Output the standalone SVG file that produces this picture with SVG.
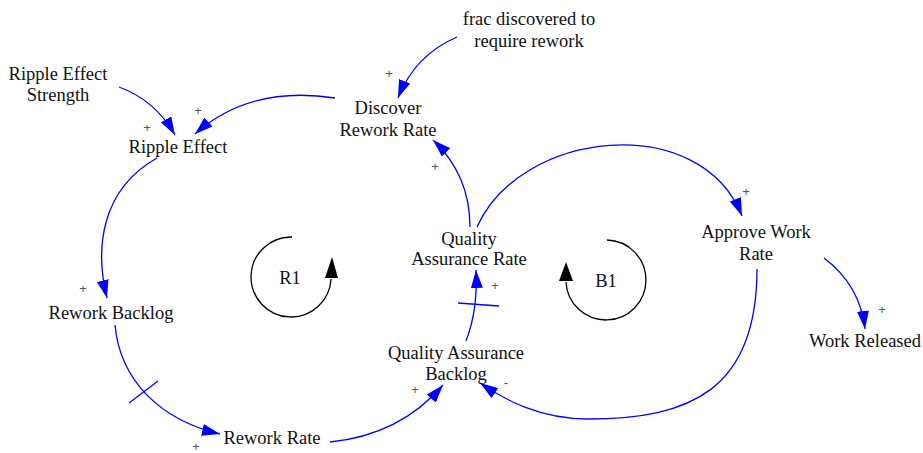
<svg xmlns="http://www.w3.org/2000/svg" width="923" height="453" viewBox="0 0 923 453">
<style>
text{font-family:"Liberation Serif","Times New Roman","DejaVu Serif",serif}
.t{font-size:18.5px;fill:#111;text-anchor:middle}
.s{font-family:"Liberation Sans","DejaVu Sans",sans-serif;font-size:13px;fill:#555;text-anchor:middle}
.e{fill:none;stroke:#0000ff;stroke-width:1.3;marker-end:url(#ab)}
.k{fill:none;stroke:#0000ff;stroke-width:1.3}
.l{fill:none;stroke:#000;stroke-width:1.3}
</style>
<defs>
<marker id="ab" markerUnits="userSpaceOnUse" viewBox="0 0 18 12" markerWidth="18" markerHeight="12" refX="18" refY="6" orient="auto"><path d="M0,0 L18,6 L0,12 z" fill="#0000ff"/></marker>
</defs>
<rect width="923" height="453" fill="#fff"/>
<g id="connectors">
<path class="e" d="M119,87 Q155,100 175,135"/>
<path class="e" d="M335,98 Q250,85 195,134"/>
<path class="e" d="M457,37 Q415,55 398,98"/>
<path class="e" d="M470,227 Q470,175 433,140"/>
<path class="e" d="M477,227 C520,130 700,110 742,216"/>
<path class="e" d="M157,158 C100,190 95,250 107,298"/>
<path class="e" d="M115,325 C120,380 160,420 220,434"/>
<path class="k" d="M129,403 L158,381"/>
<path class="e" d="M330,442 Q400,435 443,385"/>
<path class="e" d="M466,341 Q478,310 476,270"/>
<path class="k" d="M458,303 L499,306"/>
<path class="e" d="M757,269 C757,390 690,419 588,419 C540,419 505,400 480,383"/>
<path class="e" d="M824,258 Q860,285 865,329"/>
</g>
<g id="loop-r1">
<path class="l" d="M292,237 A40,40 0 1 0 331,279"/>
<polygon points="325,278 338,278 332,257" fill="#000"/>
<text class="t" x="290" y="284">R1</text>
</g>
<g id="loop-b1">
<path class="l" d="M607,240 A40,40 0 1 1 566,282"/>
<polygon points="559,281 573,281 566,262" fill="#000"/>
<text class="t" x="606" y="287">B1</text>
</g>
<g id="signs">
<text class="s" x="147" y="132">+</text>
<text class="s" x="198" y="115">+</text>
<text class="s" x="389" y="78">+</text>
<text class="s" x="435" y="171">+</text>
<text class="s" x="746" y="196">+</text>
<text class="s" x="83" y="293">+</text>
<text class="s" x="196" y="451">+</text>
<text class="s" x="415" y="394">+</text>
<text class="s" x="495" y="290">+</text>
<text class="s" x="506" y="387">-</text>
<text class="s" x="882" y="314">+</text>
</g>
<g id="ripple-effect-strength"><text class="t" x="58" y="80">Ripple Effect</text><text class="t" x="58" y="101">Strength</text></g>
<g id="ripple-effect"><text class="t" x="178" y="153">Ripple Effect</text></g>
<g id="discover-rework-rate"><text class="t" x="388" y="114">Discover</text><text class="t" x="388" y="136">Rework Rate</text></g>
<g id="frac-discovered"><text class="t" x="529" y="25">frac discovered to</text><text class="t" x="529" y="47">require rework</text></g>
<g id="quality-assurance-rate"><text class="t" x="469" y="245">Quality</text><text class="t" x="469" y="265">Assurance Rate</text></g>
<g id="approve-work-rate"><text class="t" x="756" y="238">Approve Work</text><text class="t" x="756" y="260">Rate</text></g>
<g id="rework-backlog"><text class="t" x="111" y="319">Rework Backlog</text></g>
<g id="quality-assurance-backlog"><text class="t" x="456" y="359">Quality Assurance</text><text class="t" x="456" y="380">Backlog</text></g>
<g id="rework-rate"><text class="t" x="272" y="444">Rework Rate</text></g>
<g id="work-released"><text class="t" x="865" y="347">Work Released</text></g>
</svg>
